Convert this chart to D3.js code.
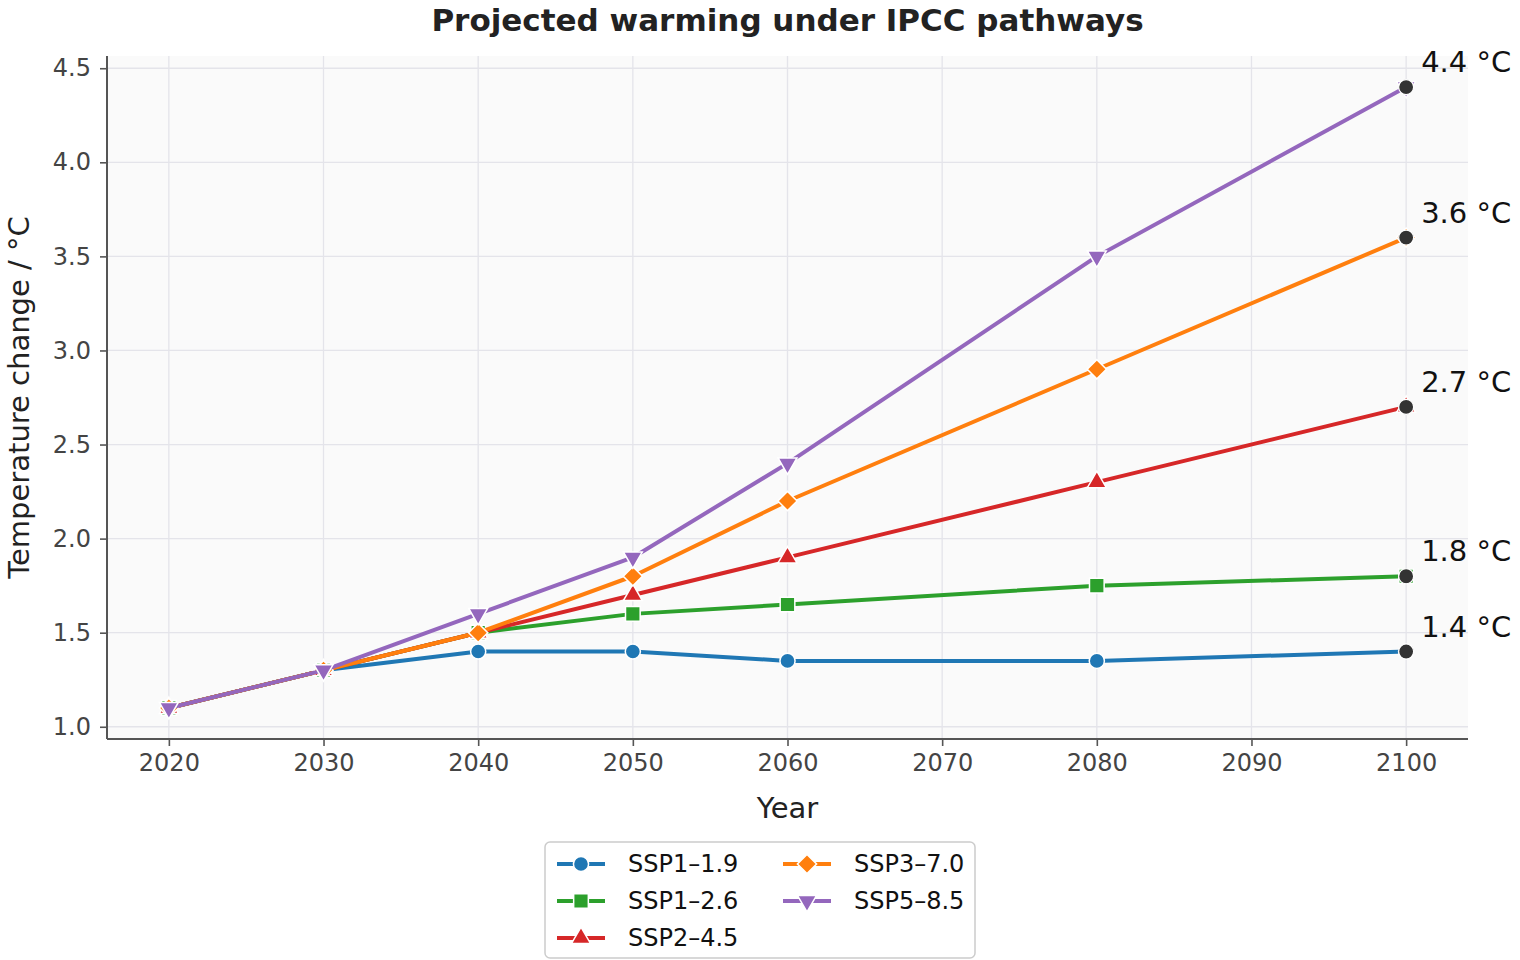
<!DOCTYPE html>
<html>
<head>
<meta charset="utf-8">
<script src="https://cdn.jsdelivr.net/npm/d3@7"></script>
<style>
  body { margin: 0; background: #fff; }
  svg text { font-family: "DejaVu Sans", sans-serif; }
</style>
</head>
<body>
<script>
// data
var years = [2020, 2030, 2040, 2050, 2060, 2080, 2100];
var ssp119 = [1.1, 1.3, 1.4, 1.4, 1.35, 1.35, 1.4];
var ssp126 = [1.1, 1.3, 1.5, 1.6, 1.65, 1.75, 1.8];
var ssp245 = [1.1, 1.3, 1.5, 1.7, 1.9, 2.3, 2.7];
var ssp370 = [1.1, 1.3, 1.5, 1.8, 2.2, 2.9, 3.6];
var ssp585 = [1.1, 1.3, 1.6, 1.9, 2.4, 3.5, 4.4];
var seriesNames = ["SSP1–1.9", "SSP1–2.6", "SSP2–4.5", "SSP3–7.0", "SSP5–8.5"];
var xTicks = [2020, 2030, 2040, 2050, 2060, 2070, 2080, 2090, 2100];
var yTicks = [1.0, 1.5, 2.0, 2.5, 3.0, 3.5, 4.0, 4.5];

var series = [
  { name: seriesNames[0], values: ssp119, color: "#1f77b4", marker: "circle" },
  { name: seriesNames[1], values: ssp126, color: "#2ca02c", marker: "square" },
  { name: seriesNames[2], values: ssp245, color: "#d62728", marker: "triUp" },
  { name: seriesNames[3], values: ssp370, color: "#ff7f0e", marker: "diamond" },
  { name: seriesNames[4], values: ssp585, color: "#9467bd", marker: "triDown" }
];

var W = 1520, H = 960;
var margin = { top: 56, right: 52, bottom: 221, left: 107 };
var w = W - margin.left - margin.right;
var h = H - margin.top - margin.bottom;

var svg = d3.select("body").append("svg").attr("width", W).attr("height", H);
var g = svg.append("g").attr("transform", "translate(" + margin.left + "," + margin.top + ")");

var xScale = d3.scaleLinear().domain([2016, 2104]).range([0, w]);
var yScale = d3.scaleLinear().domain([0.935, 4.565]).range([h, 0]);

// plot background
g.append("rect").attr("width", w).attr("height", h).attr("fill", "#fafafa");

// grid
g.append("g").selectAll("line").data(xTicks).enter().append("line")
  .attr("x1", function(d) { return xScale(d); })
  .attr("x2", function(d) { return xScale(d); })
  .attr("y1", 0).attr("y2", h)
  .attr("stroke", "#e4e4ea").attr("stroke-width", 1.3);
g.append("g").selectAll("line").data(yTicks).enter().append("line")
  .attr("y1", function(d) { return yScale(d); })
  .attr("y2", function(d) { return yScale(d); })
  .attr("x1", 0).attr("x2", w)
  .attr("stroke", "#e4e4ea").attr("stroke-width", 1.3);

// axes
var xAxis = g.append("g")
  .attr("transform", "translate(0," + h + ")")
  .call(d3.axisBottom(xScale).tickValues(xTicks).tickFormat(d3.format("d")).tickSizeOuter(0).tickSize(7).tickPadding(8));
var yAxis = g.append("g")
  .call(d3.axisLeft(yScale).tickValues(yTicks).tickFormat(d3.format(".1f")).tickSizeOuter(0).tickSize(7).tickPadding(9));

[xAxis, yAxis].forEach(function(ax) {
  ax.select(".domain").attr("stroke", "#555").attr("stroke-width", 2);
  ax.selectAll(".tick line").attr("stroke", "#555").attr("stroke-width", 1.6);
  ax.selectAll(".tick text").attr("fill", "#444").style("font-size", "24px");
});
// extend domain lines to the full plot area
xAxis.select(".domain").attr("d", "M0,0H" + w);
yAxis.select(".domain").attr("d", "M0," + h + "V0");

// marker shapes
function markerPath(type) {
  if (type === "circle") return d3.symbol().type(d3.symbolCircle).size(180)();
  if (type === "square") return d3.symbol().type(d3.symbolSquare).size(215)();
  if (type === "diamond") return d3.symbol().type(d3.symbolSquare).size(185)();
  return d3.symbol().type(d3.symbolTriangle).size(155)();
}
function markerRotate(type) {
  if (type === "diamond") return 45;
  if (type === "triDown") return 180;
  return 0;
}

var line = d3.line()
  .x(function(d, i) { return xScale(years[i]); })
  .y(function(d) { return yScale(d); });

series.forEach(function(s) {
  var sg = g.append("g");
  sg.append("path")
    .attr("d", line(s.values))
    .attr("fill", "none")
    .attr("stroke", s.color)
    .attr("stroke-width", 4)
    .attr("stroke-linejoin", "round");
  sg.selectAll("path.mk").data(s.values).enter().append("path")
    .attr("class", "mk")
    .attr("d", markerPath(s.marker))
    .attr("transform", function(d, i) {
      return "translate(" + xScale(years[i]) + "," + yScale(d) + ") rotate(" + markerRotate(s.marker) + ")";
    })
    .attr("fill", s.color)
    .attr("stroke", "#fff")
    .attr("stroke-width", 1.5);
});

// endpoint markers and labels
var lastYear = years[years.length - 1];
series.forEach(function(s) {
  var v = s.values[s.values.length - 1];
  g.append("circle")
    .attr("cx", xScale(lastYear)).attr("cy", yScale(v)).attr("r", 7.5)
    .attr("fill", "#333").attr("stroke", "#fff").attr("stroke-width", 1.2);
  g.append("text")
    .attr("x", xScale(lastYear) + 15).attr("y", yScale(v) - 15)
    .style("font-size", "29px").attr("fill", "#111")
    .text(v.toFixed(1) + " °C");
});

// axis labels
g.append("text")
  .attr("x", w / 2).attr("y", h + 79)
  .style("text-anchor", "middle").style("font-size", "29px").attr("fill", "#222")
  .text("Year");
g.append("text")
  .attr("transform", "rotate(-90)")
  .attr("x", -h / 2).attr("y", -78)
  .style("text-anchor", "middle").style("font-size", "29px").attr("fill", "#222")
  .text("Temperature change / °C");

// title
svg.append("text")
  .attr("x", margin.left + w / 2).attr("y", 31)
  .style("text-anchor", "middle").style("font-size", "31px").style("font-weight", "bold").attr("fill", "#222")
  .text("Projected warming under IPCC pathways");

// legend
var legend = svg.append("g").attr("transform", "translate(545,842)");
legend.append("rect")
  .attr("width", 430).attr("height", 116).attr("rx", 5)
  .attr("fill", "#fff").attr("stroke", "#ccc").attr("stroke-width", 1.5);
var legendPos = [[12, 22], [12, 59], [12, 96], [238, 22], [238, 59]];
series.forEach(function(s, i) {
  var p = legendPos[i];
  var lg = legend.append("g").attr("transform", "translate(" + p[0] + "," + p[1] + ")");
  lg.append("line").attr("x1", 0).attr("x2", 48).attr("y1", 0).attr("y2", 0)
    .attr("stroke", s.color).attr("stroke-width", 4);
  lg.append("path")
    .attr("d", markerPath(s.marker))
    .attr("transform", "translate(24,0) rotate(" + markerRotate(s.marker) + ")")
    .attr("fill", s.color).attr("stroke", "#fff").attr("stroke-width", 1.5);
  lg.append("text").attr("x", 71).attr("y", 8)
    .style("font-size", "24px").attr("fill", "#111")
    .text(s.name);
});
</script>
</body>
</html>
